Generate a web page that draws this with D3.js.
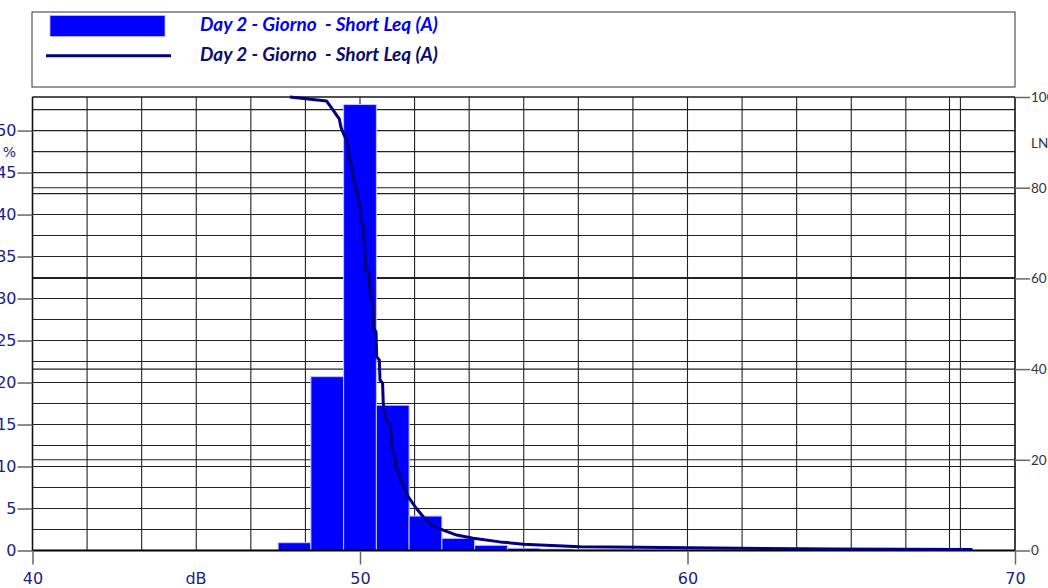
<!DOCTYPE html>
<html><head><meta charset="utf-8">
<script src="https://cdn.jsdelivr.net/npm/d3@7"></script>
<style>
html,body{margin:0;padding:0;background:#fff;}
svg{display:block;}
</style></head>
<body>
<svg id="c" width="1048" height="588"></svg>
<script>
// ---- data ----
const seriesName = "Day 2 - Giorno  - Short Leq (A)";
const barDb  = [48, 49, 50, 51, 52, 53, 54, 55, 56, 57, 58, 59, 60, 61];
const barPct = [0.93, 20.7, 53.1, 17.3, 4.1, 1.45, 0.62, 0.27, 0.17, 0.12, 0.09, 0.07, 0.05, 0.04];
const lnDb  = [47.86, 48.98, 49.18, 49.37, 49.42, 49.49, 49.59, 49.64, 49.69, 49.75, 49.80, 49.88, 49.95, 50.00, 50.03, 50.10, 50.12, 50.18, 50.28, 50.31, 50.39, 50.41, 50.49, 50.51, 50.59, 50.61, 50.69, 50.71, 50.79, 50.92, 50.99, 51.07, 51.10, 51.20, 51.24, 51.32, 51.47, 51.68, 51.93, 52.19, 52.54, 52.95, 53.46, 54.27, 54.99, 56.72, 58.5, 61.6, 64.5, 68.7];
const lnPct = [100, 99.1, 97.1, 95.1, 93.3, 92.0, 90.5, 89.0, 86.1, 84.8, 82.1, 79.5, 78.0, 75.5, 72.5, 71.8, 68.5, 61.9, 61.1, 56.0, 55.2, 49.0, 48.2, 42.7, 42.0, 37.6, 36.9, 32.5, 28.8, 28.0, 21.8, 20.7, 18.1, 17.0, 15.5, 14.4, 11.9, 9.66, 7.45, 5.6, 4.5, 3.4, 2.7, 1.9, 1.4, 0.84, 0.7, 0.48, 0.35, 0.2];
const xTicks = [40, 50, 60, 70];
const leftTicks = [0, 5, 10, 15, 20, 25, 30, 35, 40, 45, 50];
const rightTicks = [0, 20, 40, 60, 80, 100];
const xAxisTitle = "dB";
const leftTitle = "%";
const rightTitle = "LN";

// ---- layout ----
const svg = d3.select("#c");
const L = 32.5, R = 1015, T = 97, B = 550.5;
const x = d3.scaleLinear().domain([40, 70]).range([L, R]);
const yL = d3.scaleLinear().domain([0, 54]).range([B, T]);
const yR = d3.scaleLinear().domain([0, 100]).range([B, T]);
const navy = "#1c1c8a";

// legend box
svg.append("rect").attr("x", 32).attr("y", 12).attr("width", R - 32).attr("height", 75)
  .attr("fill", "none").attr("stroke", "#333").attr("stroke-width", 1);
svg.append("rect").attr("x", 50).attr("y", 15.5).attr("width", 115).attr("height", 21)
  .attr("fill", "#0000ff").attr("stroke", "#b8b8ff").attr("stroke-width", 0.8);
svg.append("line").attr("x1", 46).attr("x2", 171).attr("y1", 55.7).attr("y2", 55.7)
  .attr("stroke", "#000080").attr("stroke-width", 3);
svg.append("text").attr("x", 200).attr("y", 31).text(seriesName)
  .attr("font-family", "Lato").attr("font-weight", "bold").attr("font-style", "italic")
  .attr("font-size", 19).attr("fill", "#0000ee").style("white-space", "pre");
svg.append("text").attr("x", 200).attr("y", 61).text(seriesName)
  .attr("font-family", "Lato").attr("font-weight", "bold").attr("font-style", "italic")
  .attr("font-size", 19).attr("fill", "#0a0a70").style("white-space", "pre");

// grid
const g = svg.append("g");
const vLines = d3.range(0, 19).map(i => 40 + i * 10 / 6).concat([68.0]);
g.selectAll(".v").data(vLines).join("line")
  .attr("x1", d => x(d)).attr("x2", d => x(d)).attr("y1", T).attr("y2", B)
  .attr("stroke", "#222").attr("stroke-width", 1.1);
const hL = d3.range(0, 22).map(i => i * 2.5);
g.selectAll(".hl").data(hL).join("line")
  .attr("x1", L).attr("x2", R).attr("y1", d => yL(d)).attr("y2", d => yL(d))
  .attr("stroke", "#222").attr("stroke-width", 1.1);
g.selectAll(".hr").data(rightTicks).join("line")
  .attr("x1", L).attr("x2", R).attr("y1", d => yR(d)).attr("y2", d => yR(d))
  .attr("stroke", "#222").attr("stroke-width", 1.1);

// frame
svg.append("line").attr("x1", L).attr("x2", R).attr("y1", T).attr("y2", T).attr("stroke", "#111").attr("stroke-width", 1.2);
svg.append("line").attr("x1", R).attr("x2", R).attr("y1", T).attr("y2", B).attr("stroke", "#111").attr("stroke-width", 1.2);
svg.append("line").attr("x1", L).attr("x2", L).attr("y1", T).attr("y2", B).attr("stroke", "#111").attr("stroke-width", 1.5);

// bars
svg.append("g").selectAll("rect").data(barDb.map((d, i) => ({ d, v: barPct[i] }))).join("rect")
  .attr("x", o => x(o.d - 0.5)).attr("width", o => x(o.d + 0.5) - x(o.d - 0.5))
  .attr("y", o => yL(o.v)).attr("height", o => B - yL(o.v))
  .attr("fill", "#0000ff").attr("stroke", "#c4c4ff").attr("stroke-width", 1);

// baseline
svg.append("line").attr("x1", L).attr("x2", R).attr("y1", B).attr("y2", B).attr("stroke", "#000").attr("stroke-width", 2);

// LN curve
const line = d3.line().x((d, i) => x(lnDb[i])).y((d, i) => yR(lnPct[i]));
svg.append("path").datum(lnDb).attr("d", line).attr("fill", "none")
  .attr("stroke", "#000080").attr("stroke-width", 3).attr("stroke-linejoin", "round");

// axes
const ax = svg.append("g").attr("transform", `translate(0,${B})`)
  .call(d3.axisBottom(x).tickValues(xTicks).tickSize(14).tickPadding(8).tickFormat(d3.format("d")));
ax.select(".domain").remove();
ax.selectAll("line").attr("stroke", "#666").attr("stroke-width", 1.5);
ax.selectAll("text").attr("font-family", "DejaVu Sans").attr("font-size", 16).attr("fill", navy);

const ayL = svg.append("g").attr("transform", `translate(${L},0)`)
  .call(d3.axisLeft(yL).tickValues(leftTicks).tickSize(15).tickPadding(1).tickFormat(d3.format("d")));
ayL.select(".domain").remove();
ayL.selectAll("line").attr("stroke", "#666").attr("stroke-width", 1.5);
ayL.selectAll("text").attr("font-family", "DejaVu Sans").attr("font-size", 16).attr("fill", navy);

const ayR = svg.append("g").attr("transform", `translate(${R},0)`)
  .call(d3.axisRight(yR).tickValues(rightTicks).tickSize(15).tickPadding(1).tickFormat(d3.format("d")));
ayR.select(".domain").remove();
ayR.selectAll("line").attr("stroke", "#666").attr("stroke-width", 1.5);
ayR.selectAll("text").attr("font-family", "Lato").attr("font-size", 13.5).attr("fill", "#333");

// titles
svg.append("text").attr("x", 196).attr("y", 584).attr("text-anchor", "middle").text(xAxisTitle)
  .attr("font-family", "DejaVu Sans").attr("font-size", 16).attr("fill", navy);
svg.append("text").attr("x", 16).attr("y", 157).attr("text-anchor", "end").text(leftTitle)
  .attr("font-family", "DejaVu Sans").attr("font-size", 14).attr("fill", navy);
svg.append("text").attr("x", 1031).attr("y", 148).text(rightTitle)
  .attr("font-family", "Lato").attr("font-size", 13.5).attr("fill", "#333");
</script>
</body></html>
